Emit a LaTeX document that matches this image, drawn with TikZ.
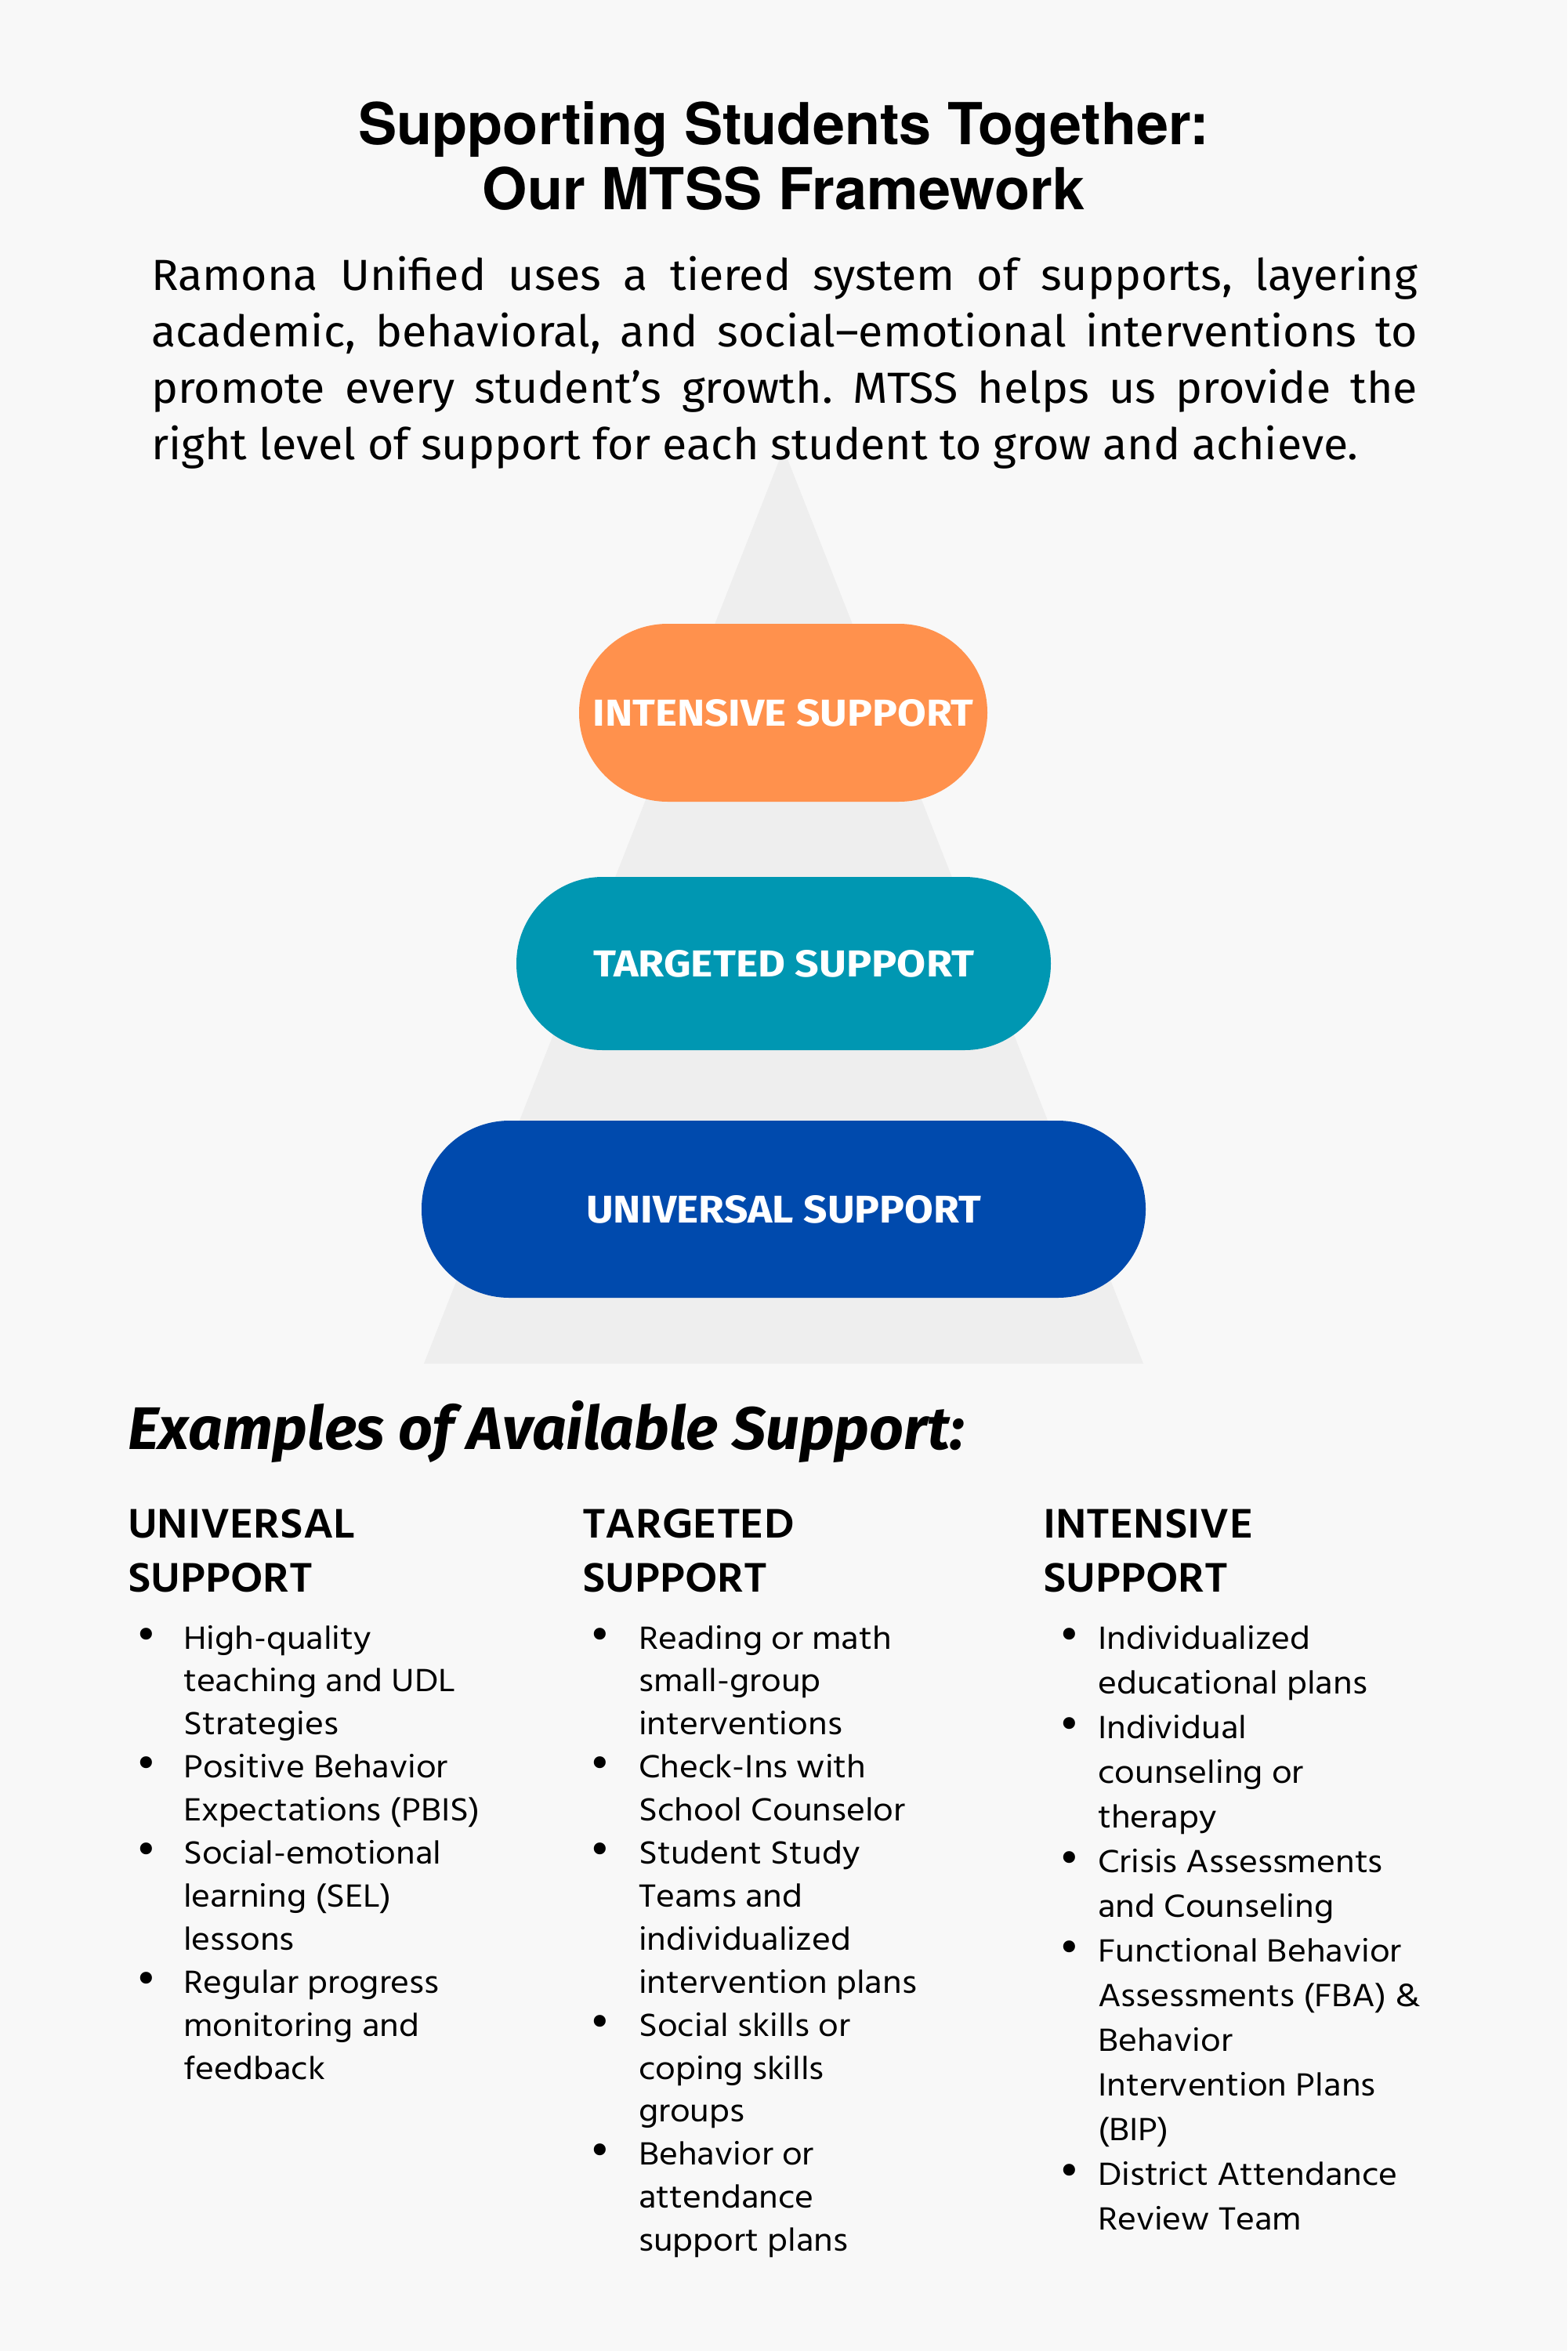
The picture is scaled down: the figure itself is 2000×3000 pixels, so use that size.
\documentclass[tikz,border=0pt]{standalone}
\usepackage{fontspec}
\usepackage{graphicx}
\setmainfont{Fira Sans}
\newfontfamily\titlefont{TeX Gyre Heros}
\newfontfamily\parafont{Fira Sans}[FakeStretch=1.03]
\newfontfamily\pillfont{Fira Sans}
\newfontfamily\listfont{Hind Madurai}[FakeStretch=1.09]
\newfontfamily\hdrfont{Hind Madurai}[FakeStretch=1.06]
\newfontfamily\bulfont{DejaVu Sans}
\definecolor{bgc}{HTML}{F8F8F8}
\definecolor{tric}{HTML}{EEEEEE}
\definecolor{orangec}{HTML}{FF914D}
\definecolor{tealc}{HTML}{0097B2}
\definecolor{bluec}{HTML}{004AAD}
\newcommand{\bl}{{\bulfont\fontsize{52}{52}\selectfont •}}
\newcommand{\pl}[1]{\makebox[1616pt][s]{#1}}
\frenchspacing
\begin{document}
\begin{tikzpicture}[x=1pt,y=-1pt,
  titletext/.style={font=\titlefont\bfseries\fontsize{73.8}{80}\selectfont, inner sep=0pt, anchor=base},
  paratext/.style={font=\parafont\fontsize{55.6}{72.3}\selectfont, inner sep=0pt, anchor=base west},
  pill/.style={inner sep=0pt, text=white, font=\pillfont\bfseries\fontsize{50}{50}\selectfont},
  hdr/.style={font=\hdrfont\bfseries\fontsize{54}{69}\selectfont, inner sep=0pt, anchor=base west},
  listA/.style={font=\listfont\fontsize{42}{54.9}\selectfont, inner sep=0pt, anchor=base west},
  listB/.style={font=\listfont\fontsize{42}{57}\selectfont, inner sep=0pt, anchor=base west}
]
\fill[bgc] (0,0) rectangle (2000,3000);
\useasboundingbox (0,0) rectangle (2000,3000);
% pyramid
\fill[tric] (1000,573) -- (1459,1740) -- (541,1740) -- cycle;
% title
\node[titletext] (t1) at (1000,184.5) {Supporting Students Together:};
\node[titletext] (t2) at (1000,267.4) {Our MTSS Framework};
% paragraph
\node[paratext] (para) at (193,370) {\begin{tabular}[t]{@{}l@{}}
\pl{Ramona Unified uses a tiered system of supports, layering}\\
\pl{academic, behavioral, and social–emotional interventions to}\\
\pl{promote every student’s growth. MTSS helps us provide the}\\
right level of support for each student to grow and achieve.
\end{tabular}};
% pills
\node[pill, fill=orangec, minimum width=521pt, minimum height=227pt, rounded corners=113pt] (intensive) at (999.5,909.5)
  {\resizebox{486pt}{34pt}{INTENSIVE SUPPORT}};
\node[pill, fill=tealc, minimum width=682pt, minimum height=221pt, rounded corners=110pt] (targeted) at (1000,1229.5)
  {\resizebox{486pt}{34pt}{TARGETED SUPPORT}};
\node[pill, fill=bluec, minimum width=924pt, minimum height=226pt, rounded corners=112pt] (universal) at (1000,1543)
  {\resizebox{504pt}{35pt}{UNIVERSAL SUPPORT}};
% examples heading
\node[inner sep=0pt, anchor=base west] (examples) at (163,1849.5)
  {\resizebox{1068pt}{!}{\pillfont\bfseries\itshape\fontsize{66}{70}\selectfont Examples of Available Support:}};
% column headers
\node[hdr] (h1) at (163,1962) {\begin{tabular}[t]{@{}l@{}}UNIVERSAL\\SUPPORT\end{tabular}};
\node[hdr] (h2) at (743,1962) {\begin{tabular}[t]{@{}l@{}}TARGETED\\SUPPORT\end{tabular}};
\node[hdr] (h3) at (1331,1962) {\begin{tabular}[t]{@{}l@{}}INTENSIVE\\SUPPORT\end{tabular}};
% lists
\node[listA] (l1) at (171,2104) {\begin{tabular}[t]{@{}p{63pt}@{}l@{}}
\bl & High-quality\\
 & teaching and UDL\\
 & Strategies\\
\bl & Positive Behavior\\
 & Expectations (PBIS)\\
\bl & Social-emotional\\
 & learning (SEL)\\
 & lessons\\
\bl & Regular progress\\
 & monitoring and\\
 & feedback
\end{tabular}};
\node[listA] (l2) at (750,2104) {\begin{tabular}[t]{@{}p{65pt}@{}l@{}}
\bl & Reading or math\\
 & small-group\\
 & interventions\\
\bl & Check-Ins with\\
 & School Counselor\\
\bl & Student Study\\
 & Teams and\\
 & individualized\\
 & intervention plans\\
\bl & Social skills or\\
 & coping skills\\
 & groups\\
\bl & Behavior or\\
 & attendance\\
 & support plans
\end{tabular}};
\node[listB] (l3) at (1349,2104) {\begin{tabular}[t]{@{}p{52pt}@{}l@{}}
\bl & Individualized\\
 & educational plans\\
\bl & Individual\\
 & counseling or\\
 & therapy\\
\bl & Crisis Assessments\\
 & and Counseling\\
\bl & Functional Behavior\\
 & Assessments (FBA) \&\\
 & Behavior\\
 & Intervention Plans\\
 & (BIP)\\
\bl & District Attendance\\
 & Review Team
\end{tabular}};
\end{tikzpicture}
\end{document}
